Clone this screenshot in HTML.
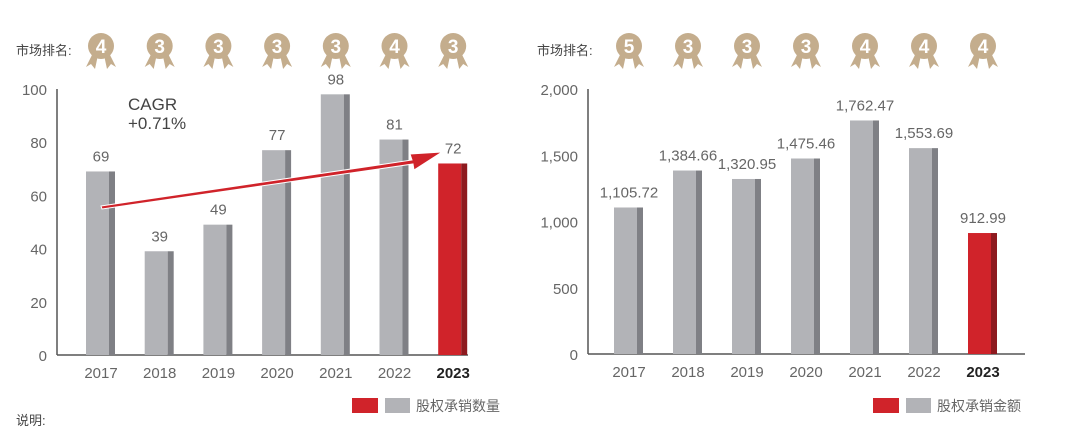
<!DOCTYPE html>
<html><head><meta charset="utf-8"><style>
body{margin:0;background:#fff;width:1080px;height:433px;overflow:hidden;font-family:"Liberation Sans","Noto Sans CJK SC",sans-serif}
svg text{font-family:"Liberation Sans","Noto Sans CJK SC",sans-serif}
</style></head><body>
<svg id="c" width="1080" height="433"></svg>
<script>
const years=["2017","2018","2019","2020","2021","2022","2023"];
const countValues=[69,39,49,77,98,81,72];
const amountValues=[1105.72,1384.66,1320.95,1475.46,1762.47,1553.69,912.99];
const countRanks=[4,3,3,3,3,4,3];
const amountRanks=[5,3,3,3,4,4,4];
const countTicks=[0,20,40,60,80,100];
const amountTicks=[0,500,1000,1500,2000];
const amountTickLabels=["0","500","1,000","1,500","2,000"];
const NS="http://www.w3.org/2000/svg";
const svg=document.getElementById('c');
function mk(t,a,txt,p){const e=document.createElementNS(NS,t);for(const k in a)e.setAttribute(k,a[k]);if(txt!=null)e.textContent=txt;(p||svg).appendChild(e);return e;}
function chart(o){
  const g=mk('g',{});
  
  
  const y=v=>o.y0-(v/o.max)*(o.y0-o.y1);
  const x=i=>o.x0+i*o.step;
  mk('line',{x1:o.ax,y1:o.y1,x2:o.ax,y2:o.y0,stroke:'#555','stroke-width':1.5},null,g);
  mk('line',{x1:o.ax,y1:o.y0,x2:o.axEnd,y2:o.y0,stroke:'#555','stroke-width':1.5},null,g);
  o.ticks.forEach((t,i)=>{const e=mk('text',{x:o.ax-10,y:y(t)+6,'text-anchor':'end','font-size':15,fill:'#666'},o.tickLabels[i],g);});
  const ml=mk('text',{x:o.rankX,y:55,'font-size':13,fill:'#444'},'市场排名:',g);
  
  years.forEach((yr,i)=>{
    const cx=x(i),v=o.vals[i],last=i===years.length-1;
    const top=y(v);
    const b=mk('rect',{x:cx-15,y:top,width:23,height:o.y0-top,fill:last?'#d0232a':'#b2b3b7'},null,g);
    
    const s=mk('rect',{x:cx+8,y:top,width:6,height:o.y0-top,fill:last?'#8e1a1f':'#7f8085'},null,g);
    
    const lt=mk('text',{x:cx,y:top-10,'text-anchor':'middle','font-size':15,fill:'#666'},o.fmt(v),g);
    
    const xl=mk('text',{x:cx,y:o.y0+23,'text-anchor':'middle','font-size':15,fill:last?'#222':'#666','font-weight':last?'bold':'normal'},yr,g);
    
    const m=mk('g',{},null,g);
    
    mk('polygon',{points:`${cx-9},55 ${cx-3},55 ${cx-6},69 ${cx-10},64 ${cx-15},67`,fill:'#c4ad8d'},null,m);
    mk('polygon',{points:`${cx+9},55 ${cx+3},55 ${cx+6},69 ${cx+10},64 ${cx+15},67`,fill:'#c4ad8d'},null,m);
    mk('circle',{cx:cx,cy:46,r:13,fill:'#c4ad8d'},null,m);
    mk('text',{x:cx,y:53,'text-anchor':'middle','font-size':19,'font-weight':'bold',fill:'#fff'},o.ranks[i],m);
  });
  const lg=mk('g',{},null,g);
  mk('rect',{x:o.legX,y:398,width:26,height:15,fill:'#d0232a'},null,lg);
  mk('rect',{x:o.legX+33,y:398,width:25,height:15,fill:'#b2b3b7'},null,lg);
  mk('text',{x:o.legX+64,y:411,'font-size':14,fill:'#666'},o.legText,lg);
}
chart({name:'count-chart',ax:57,axEnd:468,y0:355,y1:89,max:100,x0:101,step:58.7,vals:countValues,ticks:countTicks,tickLabels:countTicks.map(String),fmt:v=>String(v),ranks:countRanks,rankX:16,legX:352,legText:'股权承销数量'});
chart({name:'amount-chart',ax:588,axEnd:1025,y0:354,y1:89,max:2000,x0:629,step:59,vals:amountValues,ticks:amountTicks,tickLabels:amountTickLabels,fmt:v=>v.toLocaleString('en-US',{minimumFractionDigits:2}),ranks:amountRanks,rankX:537,legX:873,legText:'股权承销金额'});
// CAGR arrow
const ar=mk('g',{});
mk('polygon',{points:'101,206 412,160 410,154 442,152 414,170 413,164 102,209',fill:'#d0232a',stroke:'#fff','stroke-width':1},null,ar);
const c1=mk('text',{x:128,y:110,'font-size':17,fill:'#444'},'CAGR');
const c2=mk('text',{x:128,y:129,'font-size':17,fill:'#444'},'+0.71%');
const n=mk('text',{x:16,y:425,'font-size':13,fill:'#444'},'说明:');
</script>
</body></html>
